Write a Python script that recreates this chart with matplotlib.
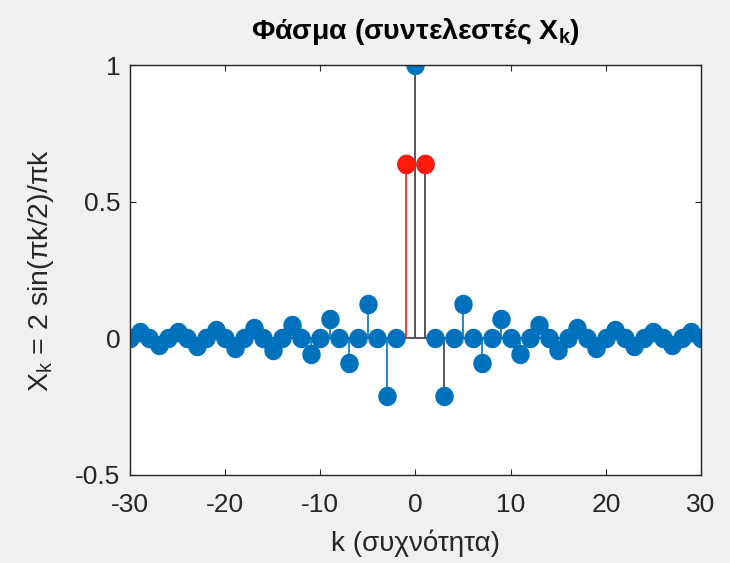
import numpy as np
import matplotlib
matplotlib.use("Agg")
import matplotlib.pyplot as plt
from matplotlib.path import Path
from matplotlib.markers import MarkerStyle

# Fourier coefficients X_k of the pulse, k = -30..30
k = list(range(-30, 31))
X = [0, 0.022, 0, -0.024, 0, 0.025, 0, -0.028, 0, 0.030,
     0, -0.034, 0, 0.037, 0, -0.042, 0, 0.049, 0, -0.058,
     0, 0.071, 0, -0.091, 0, 0.127, 0, -0.212, 0, 0.637,
     1.0,
     0.637, 0, -0.212, 0, 0.127, 0, -0.091, 0, 0.071, 0,
     -0.058, 0, 0.049, 0, -0.042, 0, 0.037, 0, -0.034, 0,
     0.030, 0, -0.028, 0, 0.025, 0, -0.024, 0, 0.022, 0]

# fundamental harmonics, highlighted
red_k = [-1, 1]
red_X = [0.637, 0.637]

xticks = [-30, -20, -10, 0, 10, 20, 30]
yticks = [-0.5, 0, 0.5, 1]

BLUE = "#0072BD"
RED = "#FF1A0A"
DARK = "#3a3a3a"
TXT = "#262626"

plt.rcParams["font.family"] = ["Liberation Sans", "DejaVu Sans"]
plt.rcParams["mathtext.fontset"] = "custom"
plt.rcParams["mathtext.rm"] = "Liberation Sans"
plt.rcParams["mathtext.it"] = "Liberation Sans"
plt.rcParams["mathtext.bf"] = "Liberation Sans:bold"

# round marker, very slightly tall
t = np.linspace(0, 2 * np.pi, 60)
oval = MarkerStyle(Path(np.column_stack([np.cos(t), 1.06 * np.sin(t)]), closed=True))

fig = plt.figure(figsize=(7.3, 5.63), dpi=100, facecolor="#F0F0F0")
ax = fig.add_axes([130 / 730, 1 - 475 / 563, 571 / 730, 410 / 563])
ax.set_facecolor("white")

# stem lines
line_colors = {0: DARK, 1: DARK, 3: DARK, -1: RED}
for kk, xx in zip(k, X):
    ax.plot([kk, kk], [0, xx], color=line_colors.get(kk, BLUE), lw=1.2,
            zorder=2, solid_capstyle="butt")
ax.axhline(0, color=DARK, lw=1.2, zorder=1.5)

ax.plot(k, X, linestyle="none", marker=oval, markersize=13,
        mfc=BLUE, mec=BLUE, zorder=3)
ax.plot(red_k, red_X, linestyle="none", marker=oval, markersize=13,
        mfc=RED, mec=RED, zorder=4)

ax.set_xlim(-30, 30)
ax.set_ylim(-0.5, 1)
ax.set_xticks(xticks)
ax.set_yticks(yticks)
ax.set_xticklabels([str(v) for v in xticks])
ax.set_yticklabels(["-0.5", "0", "0.5", "1"])
ax.tick_params(direction="in", length=4, width=0.8, colors=TXT,
               labelsize=19, top=True, right=True)
ax.tick_params(axis="x", pad=13)
ax.tick_params(axis="y", pad=7)
for s in ax.spines.values():
    s.set_color(TXT)
    s.set_linewidth(1.0)
    s.set_zorder(5)

ax.set_title(r"Φάσμα (συντελεστές X$_\mathbf{k}$)", fontsize=20.5,
             fontweight="bold", color="black", pad=19)
ax.set_xlabel("k (συχνότητα)", fontsize=20, color=TXT, labelpad=9)
ax.set_ylabel(r"X$_{\rm k}$ = 2 sin($\pi$k/2)/$\pi$k", fontsize=20.5,
              color=TXT, labelpad=14)

fig.savefig("out.png", dpi=100, facecolor=fig.get_facecolor())
